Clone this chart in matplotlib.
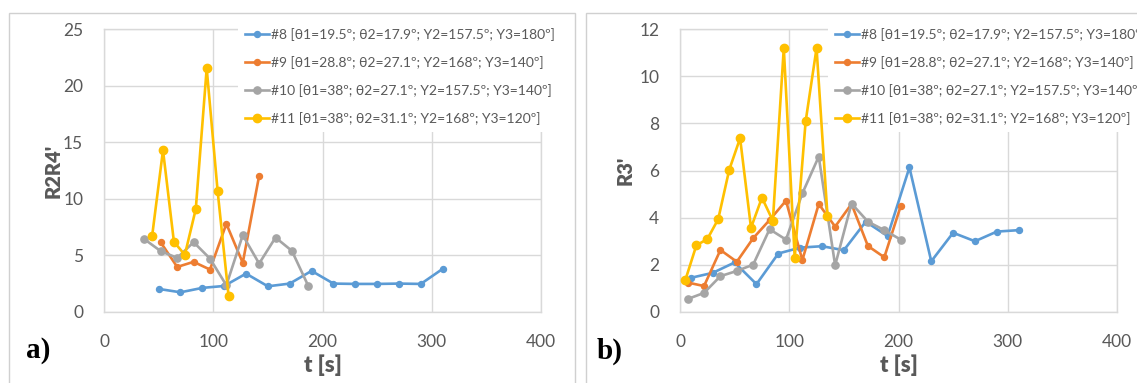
import matplotlib.pyplot as plt
from matplotlib.patches import Rectangle

# ---- data ----
labels = ['#8 [θ1=19.5º; θ2=17.9º; Υ2=157.5º; Υ3=180º]',
          '#9 [θ1=28.8º; θ2=27.1º; Υ2=168º; Υ3=140º]',
          '#10 [θ1=38º; θ2=27.1º; Υ2=157.5º; Υ3=140º]',
          '#11 [θ1=38º; θ2=31.1º; Υ2=168º; Υ3=120º]']

# panel a) R2R4'
a8_t = [50, 70, 90, 110, 130, 150, 170, 190, 210, 230, 250, 270, 290, 310]
a8_v = [2.04, 1.74, 2.13, 2.30, 3.39, 2.27, 2.51, 3.63, 2.51, 2.48, 2.48, 2.51, 2.48, 3.81]
a9_t = [52, 67, 82, 97, 112, 127, 142]
a9_v = [6.14, 3.98, 4.43, 3.75, 7.79, 4.34, 12.04]
a10_t = [37, 52, 67, 82, 97, 112, 127, 142, 157, 172, 187]
a10_v = [6.43, 5.37, 4.78, 6.17, 4.72, 2.36, 6.79, 4.28, 6.58, 5.40, 2.30]
a11_t = [44, 54, 64, 74, 84, 94, 104, 114]
a11_v = [6.67, 14.29, 6.20, 5.05, 9.09, 21.52, 10.68, 1.45]

# panel b) R3'
b8_t = [10, 30, 50, 70, 90, 110, 130, 150, 170, 190, 210, 230, 250, 270, 290, 310]
b8_v = [1.45, 1.66, 2.10, 1.18, 2.48, 2.73, 2.79, 2.62, 3.83, 3.22, 6.13, 2.15, 3.36, 3.00, 3.41, 3.47]
b9_t = [7, 22, 37, 52, 67, 82, 97, 112, 127, 142, 157, 172, 187, 202]
b9_v = [1.25, 1.10, 2.63, 2.13, 3.13, 3.90, 4.72, 2.20, 4.58, 3.62, 4.58, 2.80, 2.32, 4.49]
b10_t = [7, 22, 37, 52, 67, 82, 97, 112, 127, 142, 157, 172, 187, 202]
b10_v = [0.55, 0.81, 1.52, 1.74, 2.01, 3.51, 3.07, 5.03, 6.59, 1.98, 4.60, 3.83, 3.47, 3.07]
b11_t = [5, 15, 25, 35, 45, 55, 65, 75, 85, 95, 105, 115, 125, 135]
b11_v = [1.37, 2.83, 3.09, 3.94, 6.02, 7.37, 3.57, 4.85, 3.87, 11.19, 2.30, 8.08, 11.19, 4.07]

colors = ['#5B9BD5', '#ED7D31', '#A5A5A5', '#FFC000']
msizes = [4.3, 4.3, 5.2, 6.0]

plt.rcParams['font.family'] = ['Lato', 'DejaVu Sans']
txt = '#595959'
grid = '#D9D9D9'

W, H = 1137, 383
fig = plt.figure(figsize=(W / 100, H / 100), dpi=100)

def fx(px):
    return px / W

def fy(py):
    return 1 - py / H

# outer frames of the two pasted charts
fig.add_artist(Rectangle((fx(9), fy(400)), fx(575) - fx(9), fy(13) - fy(400),
                         transform=fig.transFigure, fill=False, ec='#D0D0D0', lw=1))
fig.add_artist(Rectangle((fx(586), fy(400)), fx(1200) - fx(586), fy(13) - fy(400),
                         transform=fig.transFigure, fill=False, ec='#D0D0D0', lw=1))

ax1 = fig.add_axes([fx(104), fy(312), fx(541) - fx(104), fy(29) - fy(312)])
ax2 = fig.add_axes([fx(680), fy(312), fx(1117) - fx(680), fy(29) - fy(312)])

series_a = [(a8_t, a8_v), (a9_t, a9_v), (a10_t, a10_v), (a11_t, a11_v)]
series_b = [(b8_t, b8_v), (b9_t, b9_v), (b10_t, b10_v), (b11_t, b11_v)]

for ax, series in [(ax1, series_a), (ax2, series_b)]:
    for (t, v), c, ms, lab in zip(series, colors, msizes, labels):
        ax.plot(t, v, '-o', color=c, lw=1.9, ms=ms, label=lab, clip_on=False, zorder=3)
    ax.set_xlim(0, 400)
    ax.set_xticks([0, 100, 200, 300, 400])
    ax.grid(True, color=grid, lw=1)
    ax.set_axisbelow(True)
    for s in ax.spines.values():
        s.set_color(grid)
        s.set_linewidth(1)
    ax.tick_params(length=0, labelsize=12.5, labelcolor=txt, pad=15)
    ax.tick_params(axis='x', pad=16)
    ax.set_xlabel('t [s]', fontsize=16, fontweight='heavy', color=txt, labelpad=3)

ax1.set_ylim(0, 25)
ax1.set_yticks([0, 5, 10, 15, 20, 25])
ax1.set_ylabel("R2R4'", fontsize=14.5, fontweight='heavy', color=txt, labelpad=0)
ax2.set_ylim(0, 12)
ax2.set_yticks([0, 2, 4, 6, 8, 10, 12])
ax2.set_ylabel("R3'", fontsize=14.5, fontweight='heavy', color=txt, labelpad=3)

for ax, x0 in [(ax1, 238), (ax2, 828)]:
    leg = ax.legend(loc='upper left', bbox_to_anchor=(fx(x0), fy(21)),
                    bbox_transform=fig.transFigure, frameon=True, fontsize=10.0,
                    labelspacing=1.08, handlelength=1.7, handletextpad=0.15,
                    borderpad=0.5, borderaxespad=0, fancybox=False)
    leg.get_frame().set_facecolor('white')
    leg.get_frame().set_edgecolor('none')
    leg.get_frame().set_alpha(1)
    leg.set_zorder(5)
    for tx in leg.get_texts():
        tx.set_color(txt)

fig.text(fx(26), fy(351), 'a)', fontsize=21, fontweight='bold',
         family='Liberation Serif', va='center', ha='left')
fig.text(fx(597), fy(351), 'b)', fontsize=21, fontweight='bold',
         family='Liberation Serif', va='center', ha='left')

fig.savefig('out.png', dpi=100)
